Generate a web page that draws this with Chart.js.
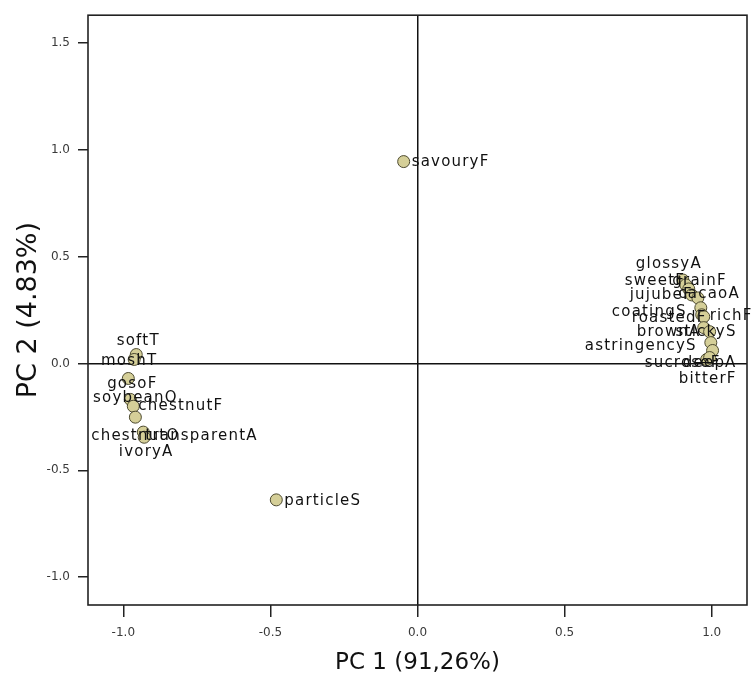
<!DOCTYPE html>
<html>
<head>
<meta charset="utf-8">
<script src="https://cdn.jsdelivr.net/npm/chart.js@4.4.1/dist/chart.umd.min.js"></script>
<style>
  html, body { margin: 0; padding: 0; background: #fff; }
  #wrap { width: 754px; height: 682px; }
</style>
</head>
<body>
<div id="wrap"><canvas id="pcaChart"></canvas></div>
<script>
// attribute names and their loadings on PC1 / PC2
const names = [
  "savouryF", "particleS",
  "softT", "moshT", "gosoF", "soybeanO", "chestnutF", "chestnutO", "transparentA", "ivoryA",
  "glossyA", "sweetF", "grainF", "jujubeF", "cacaoA", "coatingS", "roastedF", "richF",
  "brownA", "stickyS", "astringencyS", "sucroseF", "deepA", "bitterF"
];
const pc1 = [
  -0.047, -0.480,
  -0.956, -0.963, -0.983, -0.976, -0.966, -0.959, -0.932, -0.929,
  0.902, 0.912, 0.922, 0.932, 0.953, 0.963, 0.966, 0.973,
  0.973, 0.993, 0.997, 0.983, 1.003, 0.993
];
const pc2 = [
  0.945, -0.638,
  0.042, 0.019, -0.070, -0.168, -0.200, -0.251, -0.321, -0.345,
  0.391, 0.368, 0.349, 0.321, 0.307, 0.261, 0.228, 0.219,
  0.168, 0.149, 0.098, 0.019, 0.061, 0.028
];
const xTicks = [-1.0, -0.5, 0.0, 0.5, 1.0];
const yTicks = [-1.0, -0.5, 0.0, 0.5, 1.0, 1.5];

// label placement (align, dx, dy in px from the marker)
const labelPlace = [
  ["left", 8, 1], ["left", 8, 1],
  ["center", 2, -13], ["center", -5, 2], ["center", 4, 6], ["center", 5, -1],
  ["left", 5, 0], ["center", 0, 19], ["left", 2, 4], ["center", 2, 15],
  ["right", 19, -16], ["left", -61, -4], ["right", 38, -8], ["left", -62, 0],
  ["right", 42, -4], ["left", -89, 4], ["left", -70, 3], ["left", 6, -1],
  ["left", -67, 4], ["right", 27, 0], ["left", -126, 4], ["left", -62, 4],
  ["right", 24, 13], ["right", 27, 22]
];

const points = pc1.map((x, i) => ({ x: x, y: pc2[i] }));

const frameAndLabels = {
  id: "frameAndLabels",
  afterDatasetsDraw(chart) {
    const ctx = chart.ctx;
    const area = chart.chartArea;
    ctx.save();
    ctx.strokeStyle = "#222";
    ctx.lineWidth = 1.6;
    ctx.strokeRect(area.left, area.top, area.right - area.left, area.bottom - area.top);

    const meta = chart.getDatasetMeta(0);
    ctx.font = "15px 'DejaVu Sans'";
    ctx.letterSpacing = "1.2px";
    ctx.fillStyle = "#111";
    ctx.textBaseline = "middle";
    meta.data.forEach((pt, i) => {
      const p = labelPlace[i];
      ctx.textAlign = p[0];
      ctx.fillText(names[i], pt.x + p[1], pt.y + p[2]);
    });
    ctx.restore();
  }
};

const zeroLine = (c) => (c.tick && c.tick.value === 0 ? "#111" : "rgba(0,0,0,0)");

new Chart(document.querySelector("#pcaChart"), {
  type: "scatter",
  data: {
    datasets: [
      {
        data: points,
        pointRadius: 6,
        pointHoverRadius: 6,
        backgroundColor: "#d5cf98",
        borderColor: "#4d4a30",
        borderWidth: 1
      }
    ]
  },
  options: {
    responsive: true,
    maintainAspectRatio: false,
    animation: false,
    layout: { padding: { top: 12, right: 4, left: 0, bottom: 0 } },
    plugins: {
      legend: { display: false },
      tooltip: { enabled: false }
    },
    scales: {
      x: {
        type: "linear",
        min: -1.12,
        max: 1.12,
        afterBuildTicks: (s) => { s.ticks = xTicks.map((v) => ({ value: v })); },
        afterFit: (s) => { s.height = 77; },
        border: { display: false },
        grid: { color: zeroLine, tickColor: "#222", lineWidth: 1.5, tickLength: 12 },
        ticks: {
          padding: 9,
          color: "#3a3a3a",
          font: { family: "DejaVu Sans", size: 12 },
          callback: (v) => Number(v).toFixed(1)
        },
        title: {
          display: true,
          text: "PC 1 (91,26%)",
          color: "#111",
          font: { family: "DejaVu Sans", size: 23 },
          padding: { top: 0, bottom: 5 }
        }
      },
      y: {
        type: "linear",
        min: -1.13,
        max: 1.63,
        afterBuildTicks: (s) => { s.ticks = yTicks.map((v) => ({ value: v })); },
        afterFit: (s) => { s.width = 88; },
        border: { display: false },
        grid: { color: zeroLine, tickColor: "#222", lineWidth: 1.5, tickLength: 10 },
        ticks: {
          padding: 8,
          color: "#3a3a3a",
          font: { family: "DejaVu Sans", size: 12 },
          callback: (v) => Number(v).toFixed(1)
        },
        title: {
          display: true,
          text: "PC 2 (4.83%)",
          color: "#111",
          font: { family: "DejaVu Sans", size: 27 },
          padding: { top: 13, bottom: 0 }
        }
      }
    }
  },
  plugins: [frameAndLabels]
});
</script>
</body>
</html>
